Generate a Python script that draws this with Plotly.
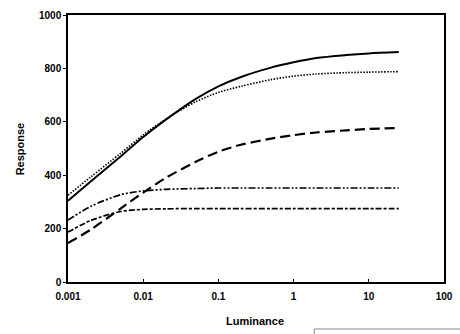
import plotly.graph_objects as go

luminance = [0.001, 0.002, 0.005, 0.01, 0.02, 0.05, 0.1, 0.2, 0.5, 1, 2, 5, 10, 25]
solid_resp = [304, 376, 470, 543, 608, 686, 733, 768, 803, 823, 839, 850, 856, 861]
dotted_resp = [325, 393, 482, 551, 610, 675, 710, 733, 758, 771, 779, 784, 786, 788]
longdash_resp = [146, 196, 275, 335, 390, 450, 488, 514, 537, 550, 560, 568, 573, 577]
dashdotdot_resp = [232, 283, 327, 341, 347, 350, 352, 352, 352, 352, 352, 352, 352, 352]
dashdot_resp = [187, 230, 264, 272, 274, 275, 275, 275, 275, 275, 275, 275, 275, 275]

x_tickvals = [0.001, 0.01, 0.1, 1, 10, 100]
x_ticktext = ["0.001", "0.01", "0.1", "1", "10", "100"]
y_tickvals = [0, 200, 400, 600, 800, 1000]

series = [
    (solid_resp, "solid", 2.0),
    (dotted_resp, "1.5px,1.5px", 1.6),
    (longdash_resp, "10px,5px", 2.2),
    (dashdotdot_resp, "7px,2px,2px,2px,2px,2px", 1.7),
    (dashdot_resp, "6px,2px,3px,2px", 1.7),
]

fig = go.Figure()
for ys, dash, w in series:
    fig.add_trace(go.Scatter(x=luminance, y=ys, mode="lines",
                             line=dict(color="black", width=w, dash=dash, shape="spline", smoothing=0.8),
                             showlegend=False))

font = dict(family="Liberation Sans, Arial, sans-serif", size=10, color="black")

fig.update_layout(
    width=460, height=334,
    margin=dict(l=68, r=7, t=15, b=52),
    paper_bgcolor="white", plot_bgcolor="white",
    font=font,
    xaxis=dict(type="log", range=[-3, 2], tickvals=x_tickvals, ticktext=x_ticktext,
               ticks="inside", ticklen=3, tickcolor="black", showgrid=False,
               showline=True, linecolor="black", linewidth=1.5, mirror=True,
               zeroline=False, tickfont=dict(family=font["family"], size=10, color="black", weight="bold"),
               ticklabelstandoff=4),
    yaxis=dict(range=[0, 1000], tickvals=y_tickvals,
               ticks="outside", ticklen=3, tickcolor="black", showgrid=False,
               showline=True, linecolor="black", linewidth=1.5, mirror=True,
               zeroline=False, tickfont=dict(family=font["family"], size=10, color="black", weight="bold")),
    annotations=[
        dict(text="<b>Luminance</b>", xref="paper", yref="paper", x=0.497, y=-0.147,
             xanchor="center", yanchor="middle", showarrow=False,
             font=dict(family=font["family"], size=11, color="black")),
        dict(text="<b>Response</b>", xref="paper", yref="paper", x=-0.128, y=0.5,
             xanchor="center", yanchor="middle", showarrow=False, textangle=-90,
             font=dict(family=font["family"], size=11, color="black")),
    ],
    shapes=[
        dict(type="rect", xref="paper", yref="paper", x0=0.655, x1=1.1, y0=-0.176, y1=-0.4,
             line=dict(color="#888", width=1)),
    ],
)

fig.write_html("out.html")
